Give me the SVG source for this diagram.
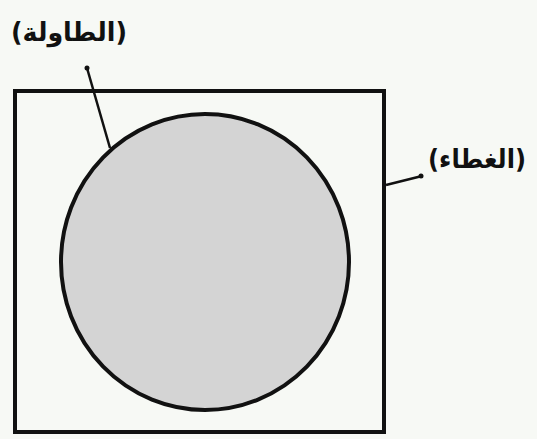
<svg xmlns="http://www.w3.org/2000/svg" width="537" height="439" viewBox="0 0 537 439">
<style>
.lbl{font-family:"DejaVu Sans",sans-serif;font-weight:bold;font-size:26px;fill:#111;text-anchor:middle}
.ln{stroke:#111;stroke-width:2.5;fill:none}
</style>
<rect width="537" height="439" fill="#f7f9f5"/>
<g id="cover">
<rect x="15" y="91" width="369" height="341" fill="none" stroke="#111" stroke-width="4"/>
</g>
<g id="table">
<ellipse cx="205" cy="262" rx="144" ry="148" fill="#d4d4d4" stroke="#111" stroke-width="4"/>
</g>
<g id="connectors">
<line class="ln" x1="87" y1="68" x2="110" y2="148"/>
<circle cx="87" cy="68" r="2.5" fill="#111"/>
<line class="ln" x1="386" y1="185" x2="422" y2="176"/>
<circle cx="421" cy="176" r="2.5" fill="#111"/>
</g>
<g id="label-table"><text class="lbl" x="69" y="41" textLength="116" lengthAdjust="spacingAndGlyphs">(الطاولة)</text></g>
<g id="label-cover"><text class="lbl" x="477" y="168" textLength="98" lengthAdjust="spacingAndGlyphs">(الغطاء)</text></g>
</svg>
